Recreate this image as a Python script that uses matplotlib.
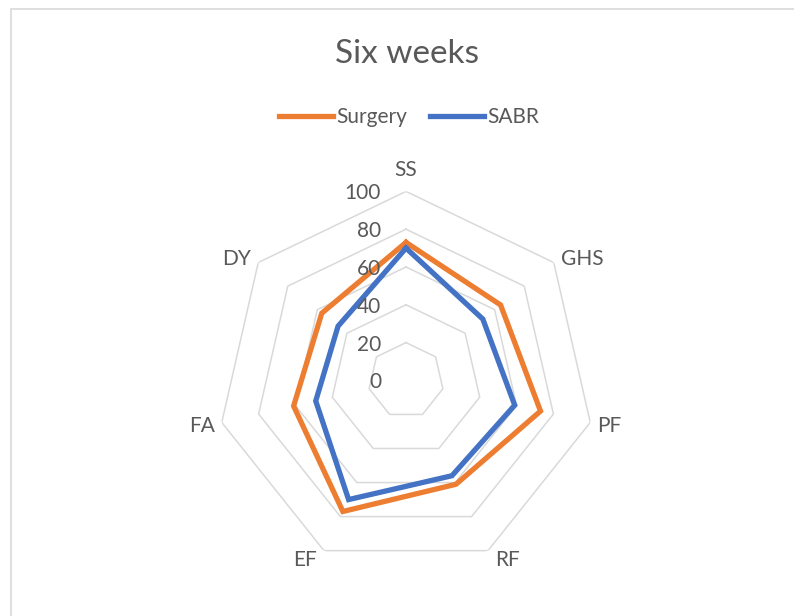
import numpy as np
import matplotlib
matplotlib.use("Agg")
import matplotlib.pyplot as plt
from matplotlib.patches import Rectangle
from matplotlib.transforms import offset_copy

categories = ["SS", "GHS", "PF", "RF", "EF", "FA", "DY"]
surgery = [73, 64, 73, 61, 77, 61, 57]
sabr = [70, 52, 59, 56, 70, 49, 46]
rings = [0, 20, 40, 60, 80, 100]

plt.rcParams['font.family'] = ['Lato', 'DejaVu Sans']
txt = '#595959'

fig = plt.figure(figsize=(7.94, 6.16), dpi=100)
ax = fig.add_axes([0.2733, 0.0757, 0.4761, 0.6136], projection='polar')
ax.set_theta_offset(np.pi / 2)
ax.set_theta_direction(-1)
ax.set_ylim(0, 100)
ax.grid(False)
ax.spines['polar'].set_visible(False)
ax.patch.set_alpha(0)

n = len(categories)
theta = np.linspace(0, 2 * np.pi, n, endpoint=False)
closed = np.append(theta, theta[0])

# heptagon gridlines
for r in rings[1:]:
    ax.plot(closed, [r] * (n + 1), color='#D9D9D9', lw=1.1, zorder=1)

ax.plot(closed, surgery + surgery[:1], color='#ED7D31', lw=3.8,
        solid_joinstyle='miter', label='Surgery', zorder=3)
ax.plot(closed, sabr + sabr[:1], color='#4472C4', lw=3.8,
        solid_joinstyle='miter', label='SABR', zorder=4)

ax.set_xticks([])
ax.set_yticks([])

# category labels, placed just outside the outer ring like Excel does
for t, name in zip(theta, categories):
    s, c = np.sin(t), np.cos(t)
    if abs(s) < 0.1:
        ha, dx = 'center', 0
    else:
        ha, dx = ('left', 7) if s > 0 else ('right', -7)
    if c > 0.9:
        va, dy = 'bottom', 11
    elif c < -0.8:
        va, dy = 'top', 1
    else:
        va, dy = 'center', -1.4 + 8.5 * c
    tr = offset_copy(ax.transData, fig=fig, x=dx, y=dy, units='dots')
    ax.text(t, 100, name, transform=tr, ha=ha, va=va, fontsize=15, color=txt)

lab_tr = offset_copy(ax.transData, fig=fig, x=-25, y=-2, units='dots')
for r in rings:
    ax.text(0, r, str(r), transform=lab_tr, ha='right', va='center',
            fontsize=15, color=txt, zorder=5)

fig.text(0.512, 1 - 54 / 616, 'Six weeks', ha='center', va='center',
         fontsize=24, color=txt)
fig.legend(loc='center', bbox_to_anchor=(0.515, 1 - 117 / 616), ncol=2,
           frameon=False, fontsize=15, labelcolor=txt, handlelength=2.6,
           handletextpad=0.15, columnspacing=1.1)

fig.add_artist(Rectangle((11 / 794, -0.1), 1.2, 1 - 9 / 616 + 0.1,
                         transform=fig.transFigure, fill=False,
                         edgecolor='#D9D9D9', lw=1.2))

fig.savefig('out.png', dpi=100)
